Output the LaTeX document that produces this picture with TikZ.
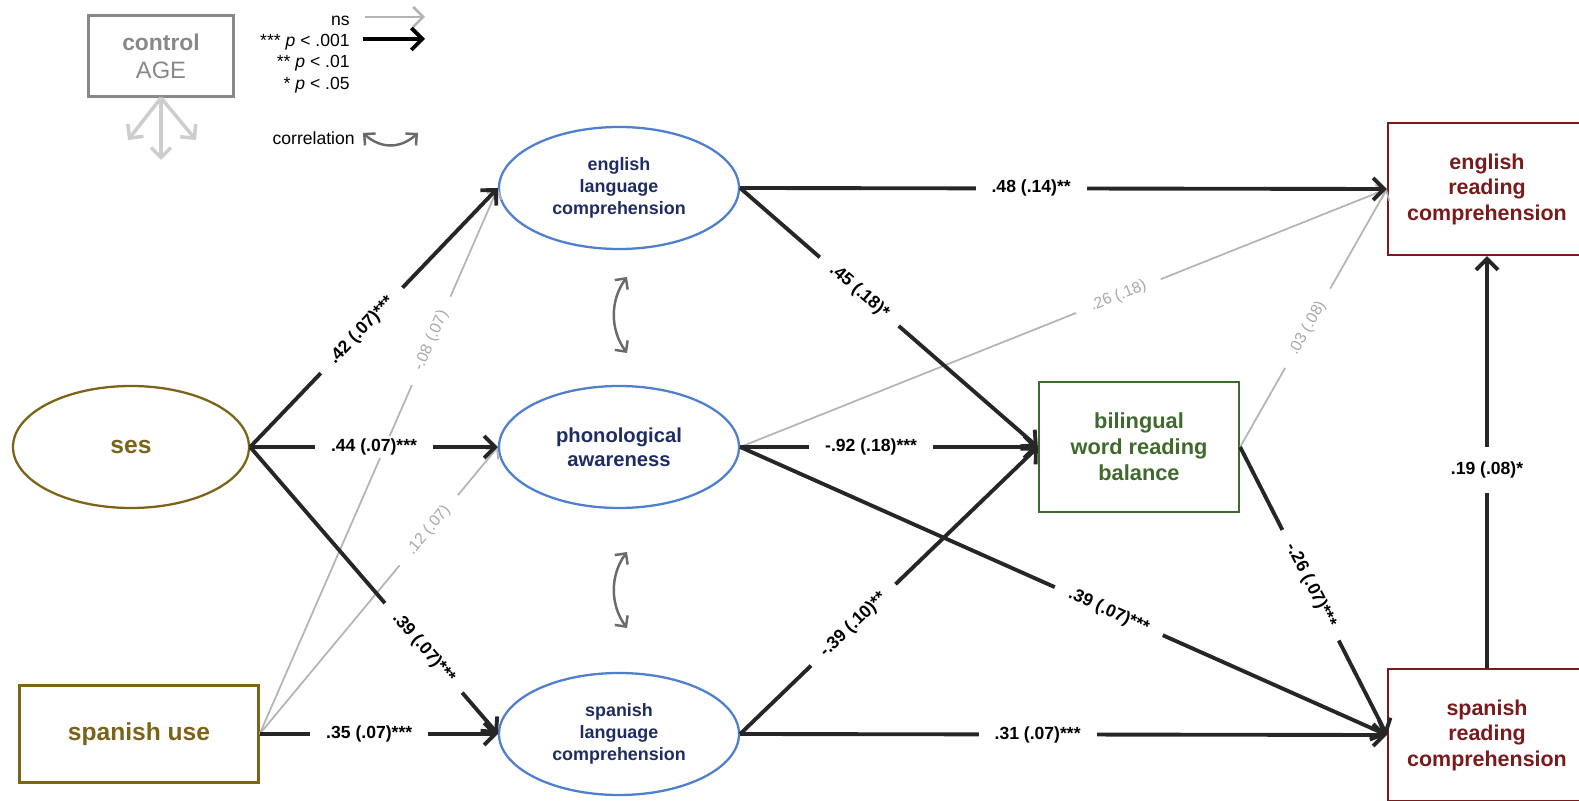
\documentclass[tikz,border=0pt]{standalone}
\usepackage{fontspec}
\setmainfont{Liberation Sans}
\usetikzlibrary{arrows.meta,shapes.geometric}

\definecolor{sesgold}{HTML}{7D6318}
\definecolor{latblue}{HTML}{4F7FCF}
\definecolor{latnavy}{HTML}{1F2C62}
\definecolor{balgreen}{HTML}{3F6A2C}
\definecolor{readred}{HTML}{7A1A1A}
\definecolor{nsgray}{HTML}{B4B4B4}
\definecolor{nstext}{HTML}{A8A8A8}
\definecolor{sigblack}{HTML}{262626}
\definecolor{corgray}{HTML}{6A6A6A}
\definecolor{ctrlgray}{HTML}{888888}
\definecolor{ctrlarrow}{HTML}{CDCDCD}

\begin{document}
\begin{tikzpicture}[x=0.2mm,y=-0.2mm]
\tikzstyle{exoEllipse}=[shape=ellipse, draw=sesgold, line width=1.3pt, text=sesgold, inner sep=0pt, minimum width=47.2mm, minimum height=24.4mm, font=\bfseries\fontsize{14}{16}\selectfont]
\tikzstyle{exoBox}=[shape=rectangle, draw=sesgold, line width=1.3pt, text=sesgold, minimum width=47.8mm, minimum height=19.4mm, font=\bfseries\fontsize{14}{16}\selectfont]
\tikzstyle{latEllipse}=[shape=ellipse, draw=latblue, line width=1.3pt, text=latnavy, inner sep=0pt, minimum width=48mm, minimum height=24.4mm, align=center, font=\bfseries\fontsize{10.2}{12.5}\selectfont]
\tikzstyle{balBox}=[shape=rectangle, draw=balgreen, line width=1.3pt, text=balgreen, minimum width=40mm, minimum height=26mm, align=center, font=\bfseries\fontsize{12.4}{14.7}\selectfont]
\tikzstyle{readBox}=[shape=rectangle, draw=readred, line width=1.3pt, text=readred, minimum width=39.6mm, minimum height=26.4mm, align=center, font=\bfseries\fontsize{12.2}{14.5}\selectfont]
\tikzstyle{ctrlBox}=[shape=rectangle, draw=ctrlgray, line width=1.5pt, text=ctrlgray, minimum width=29mm, minimum height=16.2mm, align=center, font=\fontsize{13.5}{15.9}\selectfont]
\tikzstyle{sigArrow}=[draw=sigblack, line width=2.2pt, -{Straight Barb[length=2.2mm,width=4.4mm]}]
\tikzstyle{nsArrow}=[draw=nsgray, line width=1pt, -{Straight Barb[length=1.6mm,width=3.2mm]}]
\tikzstyle{corArrow}=[draw=corgray, line width=1.4pt, {Straight Barb[length=1.6mm,width=3.2mm]}-{Straight Barb[length=1.6mm,width=3.2mm]}]
\tikzstyle{ctrlArrow}=[draw=ctrlarrow, line width=2pt, -{Straight Barb[length=2mm,width=4mm]}]
\tikzstyle{sigLabel}=[fill=white, text=black, inner xsep=3.2mm, inner ysep=0.6mm, font=\bfseries\fontsize{10}{12}\selectfont]
\tikzstyle{nsLabel}=[fill=white, text=nstext, inner xsep=3.2mm, inner ysep=0.6mm, font=\fontsize{9}{11}\selectfont]
\tikzstyle{legendText}=[anchor=east, inner sep=0pt, font=\fontsize{10}{12}\selectfont]

\useasboundingbox (0,0) rectangle (1579,801);

\node[ctrlBox] (ctrl) at (161,56) {\textbf{\fontsize{13}{15.9}\selectfont control}\\AGE};
\coordinate (ctrlL) at (128,140);
\coordinate (ctrlD) at (161,160);
\coordinate (ctrlR) at (196,140);
\draw[ctrlArrow] (ctrl.south) -- (ctrlL);
\draw[ctrlArrow] (ctrl.south) -- (ctrlD);
\draw[ctrlArrow] (ctrl.south) -- (ctrlR);

\node[legendText] (lgNs) at (350,21) {ns};
\node[legendText] (lgThree) at (350,42) {*** \textit{p} < .001};
\node[legendText] (lgTwo) at (350,63) {** \textit{p} < .01};
\node[legendText] (lgOne) at (350,85) {* \textit{p} < .05};
\node[legendText] (lgCor) at (355,138) {correlation};
\coordinate (nsA) at (365,17);
\coordinate (nsB) at (425,17);
\coordinate (sigA) at (363,39);
\coordinate (sigB) at (425,39);
\coordinate (corA) at (363,133);
\coordinate (corB) at (418,133);
\draw[draw=nsgray, line width=1.5pt, -{Straight Barb[length=2mm,width=4mm]}] (nsA) -- (nsB);
\draw[sigArrow, draw=black] (sigA) -- (sigB);
\draw[corArrow] (corA) .. controls (381,149) and (400,149) .. (corB);

\node[exoEllipse] (ses) at (131,447) {ses};
\node[exoBox] (spuse) at (139,734) {spanish use};
\node[latEllipse] (englc) at (619,188) {english\\language\\comprehension};
\node[latEllipse, font=\bfseries\fontsize{11.5}{13.6}\selectfont] (phon) at (619,447) {phonological\\awareness};
\node[latEllipse] (spanlc) at (619,734) {spanish\\language\\comprehension};
\node[balBox] (bal) at (1139,447) {bilingual\\word reading\\balance};
\node[readBox] (engrc) at (1487,189) {english\\reading\\comprehension};
\node[readBox] (spanrc) at (1487,735) {spanish\\reading\\comprehension};

\coordinate (corE1) at (627,277);
\coordinate (corE2) at (627,353);
\coordinate (corS1) at (627,552);
\coordinate (corS2) at (627,628);
\draw[corArrow] (corE1) .. controls (610,300) and (610,330) .. (corE2);
\draw[corArrow] (corS1) .. controls (610,575) and (610,605) .. (corS2);

\draw[nsArrow] (spuse.east) -- node[nsLabel, sloped, pos=.72] {-.08 (.07)} (englc.west);
\draw[nsArrow] (spuse.east) -- node[nsLabel, sloped, pos=.71] {.12 (.07)} (phon.west);
\draw[nsArrow] (phon.east) -- node[nsLabel, sloped, pos=.585] {.26 (.18)} (engrc.west);
\draw[nsArrow] (bal.east) -- node[nsLabel, sloped, pos=.46] {.03 (.08)} (engrc.west);

\draw[sigArrow] (ses.east) -- node[sigLabel, sloped, pos=.45] {.42 (.07)***} (englc.west);
\draw[sigArrow] (ses.east) -- node[sigLabel, pos=.5] {.44 (.07)***} (phon.west);
\draw[sigArrow] (ses.east) -- node[sigLabel, sloped, pos=.7] {.39 (.07)***} (spanlc.west);
\draw[sigArrow] (spuse.east) -- node[sigLabel, pos=.46] {.35 (.07)***} (spanlc.west);
\draw[sigArrow] (englc.east) -- node[sigLabel, pos=.45] {.48 (.14)**} (engrc.west);
\draw[sigArrow] (englc.east) -- node[sigLabel, sloped, pos=.4] {.45 (.18)*} (bal.west);
\draw[sigArrow] (phon.east) -- node[sigLabel, pos=.44] {-.92 (.18)***} (bal.west);
\draw[sigArrow] (phon.east) -- node[sigLabel, sloped, pos=.57] {.39 (.07)***} (spanrc.west);
\draw[sigArrow] (spanlc.east) -- node[sigLabel, sloped, pos=.38] {-.39 (.10)**} (bal.west);
\draw[sigArrow] (spanlc.east) -- node[sigLabel, pos=.46] {.31 (.07)***} (spanrc.west);
\draw[sigArrow] (bal.east) -- node[sigLabel, sloped, pos=.48] {-.26 (.07)***} (spanrc.west);
\draw[sigArrow] (spanrc.north) -- node[sigLabel, pos=.48, inner xsep=0.6mm, inner ysep=3mm] {.19 (.08)*} (engrc.south);
\end{tikzpicture}
\end{document}
